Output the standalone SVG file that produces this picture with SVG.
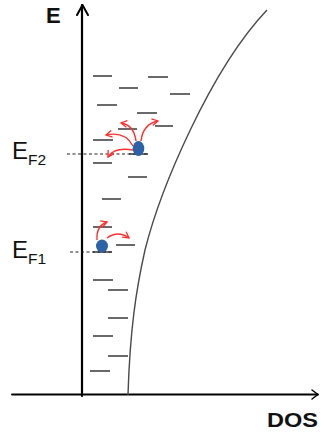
<svg xmlns="http://www.w3.org/2000/svg" width="321" height="436" viewBox="0 0 321 436">
<style>
.lvl{stroke:#3a3a3a;stroke-width:1.3;fill:none}
.ax{stroke:#000;fill:none;stroke-linecap:round;stroke-linejoin:round}
.dash{stroke:#222;stroke-width:1.2;stroke-dasharray:3,2.5;fill:none}
.red{stroke:#ff3030;stroke-width:1.4;fill:none;marker-end:url(#rh)}
.dot{fill:#2c63a6}
.lbl{font-family:"Liberation Sans",Arial,sans-serif;fill:#111}
</style>
<defs>
<marker id="rh" viewBox="0 0 8 8" refX="7" refY="4" markerWidth="8" markerHeight="8" markerUnits="userSpaceOnUse" orient="auto">
<path d="M1,0.6 L7,4 L1,7.4" fill="none" stroke="#ff3030" stroke-width="1.3"/>
</marker>
</defs>
<rect width="321" height="436" fill="#fff"/>
<g id="axes">
<path class="ax" d="M82,396 V5" stroke-width="2.2"/>
<path class="ax" d="M77,15 L82.5,5 L88,15" stroke-width="2"/>
<path class="ax" d="M12,394.5 H318" stroke-width="1.8"/>
<path class="ax" d="M312,390 L318,394.5 L312,399" stroke-width="1.5"/>
</g>
<g id="labels">
<text class="lbl" x="46" y="23" font-size="22" font-weight="bold">E</text>
<text class="lbl" x="267" y="427" font-size="20.5" font-weight="bold" textLength="51" lengthAdjust="spacingAndGlyphs">DOS</text>
<text class="lbl" x="12" y="159" font-size="24">E<tspan font-size="15.5" dy="6">F2</tspan></text>
<text class="lbl" x="12" y="258" font-size="24">E<tspan font-size="15.5" dy="6">F1</tspan></text>
</g>
<g id="dos-curve">
<path d="M128,395 C130,330 136,290 145,250 C160,190 210,70 267,10" fill="none" stroke="#4a4a4a" stroke-width="1.4"/>
</g>
<g id="levels">
<path class="lvl" d="M93,76h19 M119,88h19 M148,77h20 M170,94h20 M97,105h20 M137,113h20 M155,126h18 M118,129h19 M93,140h20 M129,154h19 M93,163h19 M128,177h19 M102,199h19 M93,227h19 M116,245h19 M93,252h19 M93,280h20 M108,290h20 M108,318h20 M93,336h20 M108,356h20 M90,371h20"/>
</g>
<g id="fermi-lines">
<path class="dash" d="M67,154H148"/>
<path class="dash" d="M70,252H112"/>
</g>
<g id="electron-F2">
<path class="red" d="M136,141 Q134,125 121,123"/>
<path class="red" d="M133,146 Q125,131 106,135"/>
<path class="red" d="M141,141 Q143,124 158,121"/>
<path class="red" d="M133,150 Q114,147 108,157"/>
<ellipse class="dot" cx="138.5" cy="148.5" rx="5.8" ry="7.5"/>
</g>
<g id="electron-F1">
<path class="red" d="M97,240 Q96,226 107,222"/>
<path class="red" d="M107,238 Q118,230 129,238"/>
<ellipse class="dot" cx="102" cy="246" rx="6" ry="6.5"/>
</g>
</svg>
